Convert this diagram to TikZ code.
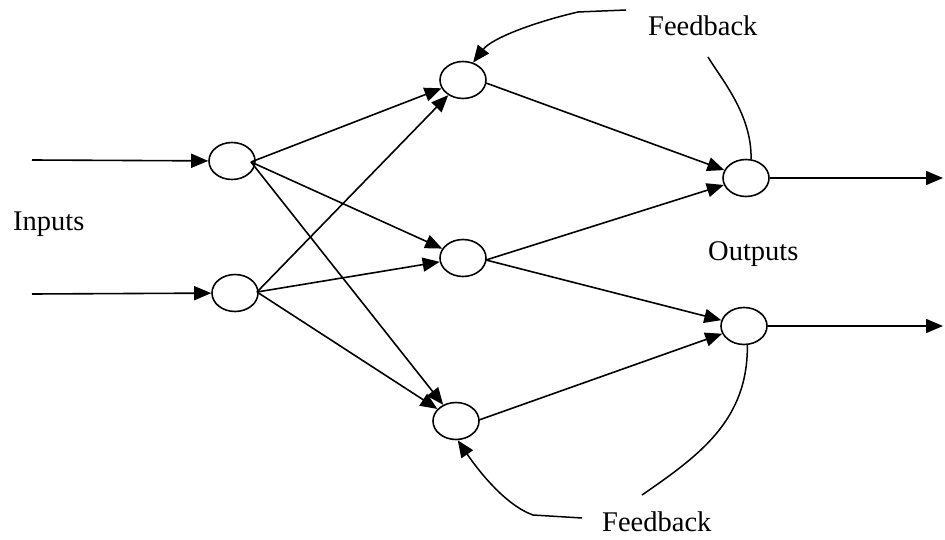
\documentclass[tikz,border=0pt]{standalone}
\usepackage{fontspec}
\setmainfont{Liberation Serif}
\usetikzlibrary{shapes.geometric,arrows.meta}
\begin{document}
\begin{tikzpicture}[x=1pt,y=-1pt,
  neuron/.style={draw,ellipse,line width=1.6pt,minimum width=46pt,minimum height=37pt,inner sep=0pt},
  tip/.style={-{Triangle[length=17pt,width=14pt]}},
  link/.style={line width=1.6pt,tip},
  fbline/.style={line width=1.5pt},
  lbl/.style={font=\fontsize{28.5}{30}\selectfont,inner sep=0pt,anchor=base west}]
\useasboundingbox (0,0) rectangle (945,540);
% neurons
\node[neuron] (I1) at (232,161) {};
\node[neuron] (I2) at (235,293) {};
\node[neuron] (H1) at (463,80) {};
\node[neuron] (H2) at (463,258) {};
\node[neuron] (H3) at (456,421) {};
\node[neuron] (O1) at (746,178) {};
\node[neuron] (O2) at (744,326) {};
% free ends
\coordinate (in1) at (32,160);
\coordinate (in2) at (32,294);
\coordinate (out1) at (943,178);
\coordinate (out2) at (943,326);
\coordinate (s1) at (251,162);
\coordinate (s2) at (257,292);
\coordinate (s3) at (486,83);
\coordinate (s4) at (486,260);
\coordinate (s5) at (479,420);
% inputs and outputs
\draw[link] (in1) -- (I1);
\draw[link] (in2) -- (I2);
\draw[link] (O1.east) -- (out1);
\draw[link] (O2.east) -- (out2);
% hidden connections
\draw[link] (s1) -- (H1);
\draw[link] (s1) -- (H2);
\draw[link] (s1) -- (H3);
\draw[link] (s2) -- (H1);
\draw[link] (s2) -- (H2);
\draw[link] (s2) -- (H3);
\draw[link] (s3) -- (O1);
\draw[link] (s4) -- (O1);
\draw[link] (s4) -- (O2);
\draw[link] (s5) -- (O2);
% labels
\node[lbl] (tin) at (13,231) {Inputs};
\node[lbl] (tout) at (708,261) {Outputs};
\node[lbl] (tfb1) at (648,36) {Feedback};
\node[lbl] (tfb2) at (602,531) {Feedback};
% feedback curves
\coordinate (f1a) at (626,10);
\coordinate (f1b) at (708,57);
\coordinate (f2a) at (642,495);
\coordinate (f2b) at (582,518);
\draw[fbline,tip] (f1a) -- (578,12) .. controls (535,22) and (492,38) .. (H1.60);
\draw[fbline] (f1b) .. controls (722,80) and (752,115) .. (O1.75);
\draw[fbline] (O2.-80) .. controls (748,420) and (700,455) .. (f2a);
\draw[fbline,tip] (f2b) -- (533,515) .. controls (505,505) and (478,470) .. (H3.-85);
\end{tikzpicture}
\end{document}
